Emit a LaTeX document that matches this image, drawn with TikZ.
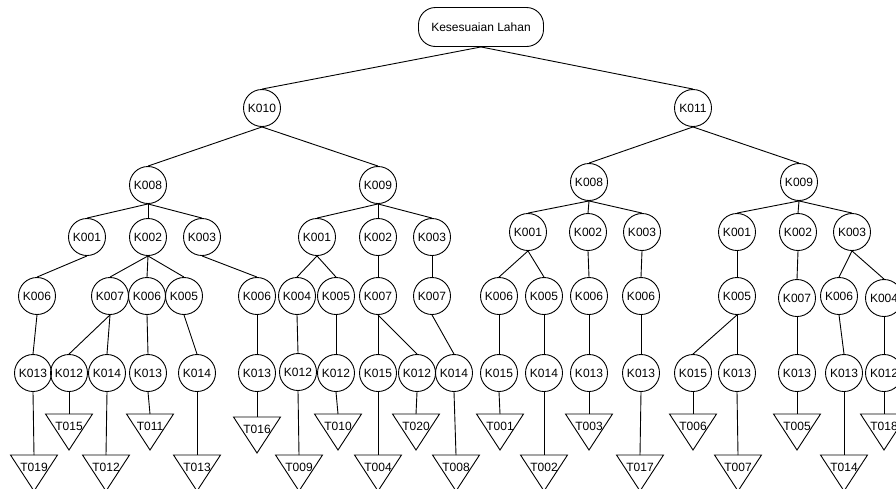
\documentclass[tikz,border=0pt]{standalone}
\usepackage{fontspec}
\setmainfont{Liberation Sans}
\newcommand\tri[4]{%
  \coordinate (#1) at (#2,#3);
  \draw[tribox] (#1) ++(-23.5,0) -- ++(47,0) -- ++(-23.5,36) -- cycle;
  \node[tlab] (#1l) at ([yshift=-12.5pt]#1) {#4};
}
\begin{document}
\begin{tikzpicture}[x=1pt,y=-1pt,line width=0.9pt,
  kn/.style={circle,draw,minimum size=37pt,inner sep=0pt,font=\fontsize{12}{14}\selectfont},
  rootbox/.style={draw,rounded corners=17pt,minimum width=125pt,minimum height=39pt,inner sep=0pt,font=\fontsize{12}{14}\selectfont},
  tribox/.style={draw},
  tlab/.style={inner sep=0pt,font=\fontsize{12}{14}\selectfont}]
\useasboundingbox (0,0) rectangle (896,488);
\clip (0,0) rectangle (896,488);
\fill[white] (0,0) rectangle (896,488);
\node[rootbox] (root) at (481,27) {Kesesuaian Lahan};
% level 1
\node[kn] (L) at (262,108) {K010};
\node[kn] (R) at (693,108) {K011};
% level 2
\node[kn] (LA) at (148,185) {K008};
\node[kn] (LB) at (378,185) {K009};
\node[kn] (RA) at (589,182) {K008};
\node[kn] (RB) at (799,182) {K009};
% level 3
\node[kn] (LA1) at (87,237) {K001};
\node[kn] (LA2) at (148,237) {K002};
\node[kn] (LA3) at (202,237) {K003};
\node[kn] (LB1) at (317,237) {K001};
\node[kn] (LB2) at (378,237) {K002};
\node[kn] (LB3) at (432,237) {K003};
\node[kn] (RA1) at (528,232) {K001};
\node[kn] (RA2) at (588,232) {K002};
\node[kn] (RA3) at (642,232) {K003};
\node[kn] (RB1) at (737,232) {K001};
\node[kn] (RB2) at (798,232) {K002};
\node[kn] (RB3) at (852,232) {K003};
% level 4
\node[kn] (LA1a) at (37,296) {K006};
\node[kn] (LA2a) at (110,296) {K007};
\node[kn] (LA2b) at (147,296) {K006};
\node[kn] (LA2c) at (184,296) {K005};
\node[kn] (LA3a) at (257,296) {K006};
\node[kn] (LB1a) at (297,296) {K004};
\node[kn] (LB1b) at (336,296) {K005};
\node[kn] (LB2a) at (378,296) {K007};
\node[kn] (LB3a) at (432,296) {K007};
\node[kn] (RA1a) at (499,296) {K006};
\node[kn] (RA1b) at (544,296) {K005};
\node[kn] (RA2a) at (589,296) {K006};
\node[kn] (RA3a) at (641,296) {K006};
\node[kn] (RB1a) at (737,296) {K005};
\node[kn] (RB2a) at (797,298) {K007};
\node[kn] (RB3a) at (839,296) {K006};
\node[kn] (RB3b) at (884,298) {K004};
% level 5
\node[kn] (n1) at (33,373) {K013};
\node[kn] (n2) at (69,373) {K012};
\node[kn] (n3) at (107,373) {K014};
\node[kn] (n4) at (148,373) {K013};
\node[kn] (n5) at (197,373) {K014};
\node[kn] (n6) at (257,373) {K013};
\node[kn] (n7) at (298,372) {K012};
\node[kn] (n8) at (336,373) {K012};
\node[kn] (n9) at (378,373) {K015};
\node[kn] (n10) at (417,373) {K012};
\node[kn] (n11) at (454,373) {K014};
\node[kn] (n12) at (499,373) {K015};
\node[kn] (n13) at (544,373) {K014};
\node[kn] (n14) at (589,373) {K013};
\node[kn] (n15) at (641,373) {K013};
\node[kn] (n16) at (693,373) {K015};
\node[kn] (n17) at (737,373) {K013};
\node[kn] (n18) at (797,373) {K013};
\node[kn] (n19) at (844,373) {K013};
\node[kn] (n20) at (884,373) {K012};
% triangles
\tri{T019}{34}{455}{T019}
\tri{T015}{69}{414}{T015}
\tri{T012}{106}{455}{T012}
\tri{T011}{150}{414}{T011}
\tri{T013}{197}{455}{T013}
\tri{T016}{257}{417}{T016}
\tri{T009}{299}{455}{T009}
\tri{T010}{338}{414}{T010}
\tri{T004}{378}{455}{T004}
\tri{T020}{416}{414}{T020}
\tri{T008}{456}{455}{T008}
\tri{T001}{500}{414}{T001}
\tri{T002}{544}{455}{T002}
\tri{T003}{589}{414}{T003}
\tri{T017}{640}{455}{T017}
\tri{T006}{693}{414}{T006}
\tri{T007}{738}{455}{T007}
\tri{T005}{797}{414}{T005}
\tri{T014}{844}{455}{T014}
\tri{T018}{884}{414}{T018}
% edges
\foreach \a/\b in {root/L,root/R,L/LA,L/LB,R/RA,R/RB,
  LA/LA1,LA/LA2,LA/LA3,LB/LB1,LB/LB2,LB/LB3,RA/RA1,RA/RA2,RA/RA3,RB/RB1,RB/RB2,RB/RB3,
  LA1/LA1a,LA2/LA2a,LA2/LA2b,LA2/LA2c,LA3/LA3a,LB1/LB1a,LB1/LB1b,LB2/LB2a,LB3/LB3a,
  RA1/RA1a,RA1/RA1b,RA2/RA2a,RA3/RA3a,RB1/RB1a,RB2/RB2a,RB3/RB3a,RB3/RB3b,
  LA1a/n1,LA2a/n2,LA2a/n3,LA2b/n4,LA2c/n5,LA3a/n6,LB1a/n7,LB1b/n8,LB2a/n9,LB2a/n10,LB3a/n11,
  RA1a/n12,RA1b/n13,RA2a/n14,RA3a/n15,RB1a/n16,RB1a/n17,RB2a/n18,RB3a/n19,RB3b/n20}
  \draw (\a.south) -- (\b.north);
\foreach \a/\b in {n1/T019,n2/T015,n3/T012,n4/T011,n5/T013,n6/T016,n7/T009,n8/T010,n9/T004,n10/T020,
  n11/T008,n12/T001,n13/T002,n14/T003,n15/T017,n16/T006,n17/T007,n18/T005,n19/T014,n20/T018}
  \draw (\a.south) -- (\b);
\end{tikzpicture}
\end{document}
